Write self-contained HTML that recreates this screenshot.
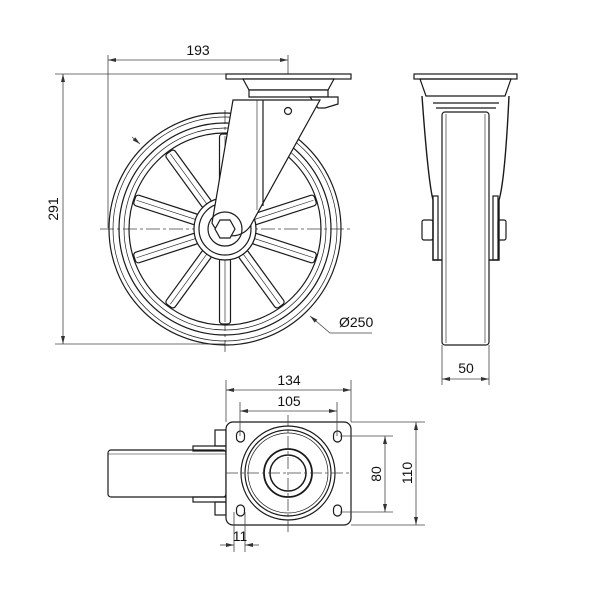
<!DOCTYPE html>
<html><head><meta charset="utf-8"><style>body{margin:0;background:#fff}svg{display:block}text{font-family:"Liberation Sans",sans-serif;font-size:14px;fill:#111}</style></head><body>
<svg width="600" height="600" viewBox="0 0 600 600" xmlns="http://www.w3.org/2000/svg">
<defs><marker id="a" markerWidth="10" markerHeight="6" refX="10" refY="3" orient="auto-start-reverse"><path d="M0,0.5 L10,3 L0,5.5 Z" fill="#333"/></marker></defs>
<g stroke="#444" stroke-width="0.8" fill="none">
<line x1="108" y1="55" x2="108" y2="228"/><line x1="288" y1="55" x2="288" y2="74"/>
<line x1="108" y1="60" x2="288" y2="60" marker-start="url(#a)" marker-end="url(#a)"/>
<line x1="55" y1="74" x2="226" y2="74"/><line x1="55" y1="344" x2="225" y2="344"/>
<line x1="63" y1="74" x2="63" y2="344" marker-start="url(#a)" marker-end="url(#a)"/>
<line x1="100" y1="229" x2="350" y2="229" stroke-dasharray="14,3,3,3"/>
<line x1="225" y1="110" x2="225" y2="352" stroke-dasharray="14,3,3,3"/>
<polyline points="310,316 330,333 372,333" marker-start="url(#a)"/>
<line x1="132" y1="137" x2="140" y2="144" marker-end="url(#a)"/>
</g>
<g stroke="#1a1a1a" stroke-width="1.2" fill="none">
<circle cx="225" cy="229" r="116"/><circle cx="225" cy="229" r="112" stroke-width="0.7"/>
<circle cx="225" cy="229" r="106"/><circle cx="225" cy="229" r="101" stroke-width="0.7"/><circle cx="225" cy="229" r="96"/>
<g id="sp">
<rect x="254" y="223.5" width="66" height="11" rx="3" fill="#fff" transform="rotate(18 225 229)"/>
<line x1="256" y1="229" x2="318" y2="229" stroke-width="0.6" transform="rotate(18 225 229)"/>
</g>
<g transform="rotate(36 225 229)"><use href="#sp"/></g><g transform="rotate(72 225 229)"><use href="#sp"/></g>
<g transform="rotate(108 225 229)"><use href="#sp"/></g><g transform="rotate(144 225 229)"><use href="#sp"/></g>
<g transform="rotate(180 225 229)"><use href="#sp"/></g><g transform="rotate(216 225 229)"><use href="#sp"/></g>
<g transform="rotate(252 225 229)"><use href="#sp"/></g><g transform="rotate(288 225 229)"><use href="#sp"/></g>
<g transform="rotate(324 225 229)"><use href="#sp"/></g>
<circle cx="225" cy="229" r="31" fill="#fff"/><circle cx="225" cy="229" r="26"/>
<rect x="226" y="74" width="125" height="5" fill="#fff"/>
<path d="M243,79 L334,79 L328,90 L249,90 Z" fill="#fff"/>
<path d="M249,90 L328,90 L328,97 L249,97 Z" fill="#fff"/>
<path d="M310,97 L338,97 L338,104 L325,108 L318,108 Z" fill="#fff"/>
<path d="M233,100 L320,100 L252,223 A22,22 0 0 1 212,223 Z" fill="#fff"/>
<line x1="263" y1="100" x2="263" y2="206"/><line x1="257" y1="100" x2="257" y2="210" stroke-width="0.6"/>
<circle cx="288" cy="111" r="3.5"/>
<circle cx="225" cy="229" r="17"/>
<polygon points="235,229 230,238 220,238 215,229 220,220 230,220" fill="#fff"/>
<rect x="414" y="74" width="103" height="5" fill="#fff"/>
<path d="M420,79 L511,79 L505,96 L426,96 Z"/>
<path d="M422,96 Q428,180 433,200 L433,260 L499,260 L499,200 Q505,180 509,96" stroke-width="1.4"/>
<path d="M433,103 L499,103 M436,108 L496,108"/>
<rect x="442" y="112" width="47" height="233" rx="3" fill="#fff"/>
<line x1="446" y1="114" x2="446" y2="343" stroke-width="0.6"/><line x1="485" y1="114" x2="485" y2="343" stroke-width="0.6"/>
<rect x="433" y="196" width="5" height="64"/><rect x="493" y="196" width="5" height="64"/>
<rect x="422" y="220" width="11" height="20" rx="2"/><rect x="498" y="220" width="8" height="20" rx="2"/>
<rect x="108" y="450" width="118" height="47" rx="3"/>
<line x1="108" y1="454" x2="226" y2="454" stroke-width="0.6"/>
<rect x="193" y="446" width="33" height="5"/><rect x="193" y="497" width="33" height="5"/>
<rect x="215" y="430" width="11" height="16"/><rect x="215" y="502" width="11" height="13"/>
<rect x="226" y="422" width="125" height="103" rx="7" fill="#fff"/>
<circle cx="288" cy="473" r="47"/><circle cx="288" cy="473" r="43"/><circle cx="288" cy="473" r="40" stroke-width="0.7"/>
<circle cx="288" cy="473" r="24" stroke-width="1.8"/><circle cx="288" cy="473" r="18" stroke-width="1.5"/>
<rect x="236.5" y="431" width="8" height="11" rx="4"/><rect x="333.5" y="431" width="8" height="11" rx="4"/>
<rect x="236.5" y="505" width="8" height="11" rx="4"/><rect x="333.5" y="505" width="8" height="11" rx="4"/>
</g>
<g stroke="#444" stroke-width="0.8" fill="none">
<line x1="442" y1="345" x2="442" y2="385"/><line x1="489" y1="345" x2="489" y2="385"/>
<line x1="442" y1="379" x2="489" y2="379" marker-start="url(#a)" marker-end="url(#a)"/>
<line x1="226" y1="380" x2="226" y2="422"/><line x1="351" y1="380" x2="351" y2="422"/>
<line x1="226" y1="390" x2="351" y2="390" marker-start="url(#a)" marker-end="url(#a)"/>
<line x1="240" y1="402" x2="240" y2="436"/><line x1="337" y1="402" x2="337" y2="436"/>
<line x1="240" y1="411" x2="337" y2="411" marker-start="url(#a)" marker-end="url(#a)"/>
<line x1="351" y1="422" x2="425" y2="422"/><line x1="351" y1="525" x2="425" y2="525"/>
<line x1="416" y1="422" x2="416" y2="525" marker-start="url(#a)" marker-end="url(#a)"/>
<line x1="340" y1="436" x2="393" y2="436"/><line x1="340" y1="512" x2="393" y2="512"/>
<line x1="385" y1="436" x2="385" y2="512" marker-start="url(#a)" marker-end="url(#a)"/>
<line x1="234" y1="512" x2="234" y2="552"/><line x1="245" y1="512" x2="245" y2="552"/>
<line x1="220" y1="545" x2="234" y2="545" marker-end="url(#a)"/><line x1="259" y1="545" x2="245" y2="545" marker-end="url(#a)"/>
<line x1="226" y1="473" x2="351" y2="473" stroke-dasharray="12,3,3,3"/>
<line x1="288" y1="415" x2="288" y2="532" stroke-dasharray="12,3,3,3"/>
</g>
<text x="198" y="55" text-anchor="middle">193</text>
<text transform="translate(58,209) rotate(-90)" text-anchor="middle">291</text>
<text x="339" y="327">Ø250</text>
<text x="466" y="373" text-anchor="middle">50</text>
<text x="289" y="385" text-anchor="middle">134</text>
<text x="289" y="406" text-anchor="middle">105</text>
<text transform="translate(412,473) rotate(-90)" text-anchor="middle">110</text>
<text transform="translate(381,474) rotate(-90)" text-anchor="middle">80</text>
<text x="240" y="541" text-anchor="middle">11</text>
</svg>
</body></html>
